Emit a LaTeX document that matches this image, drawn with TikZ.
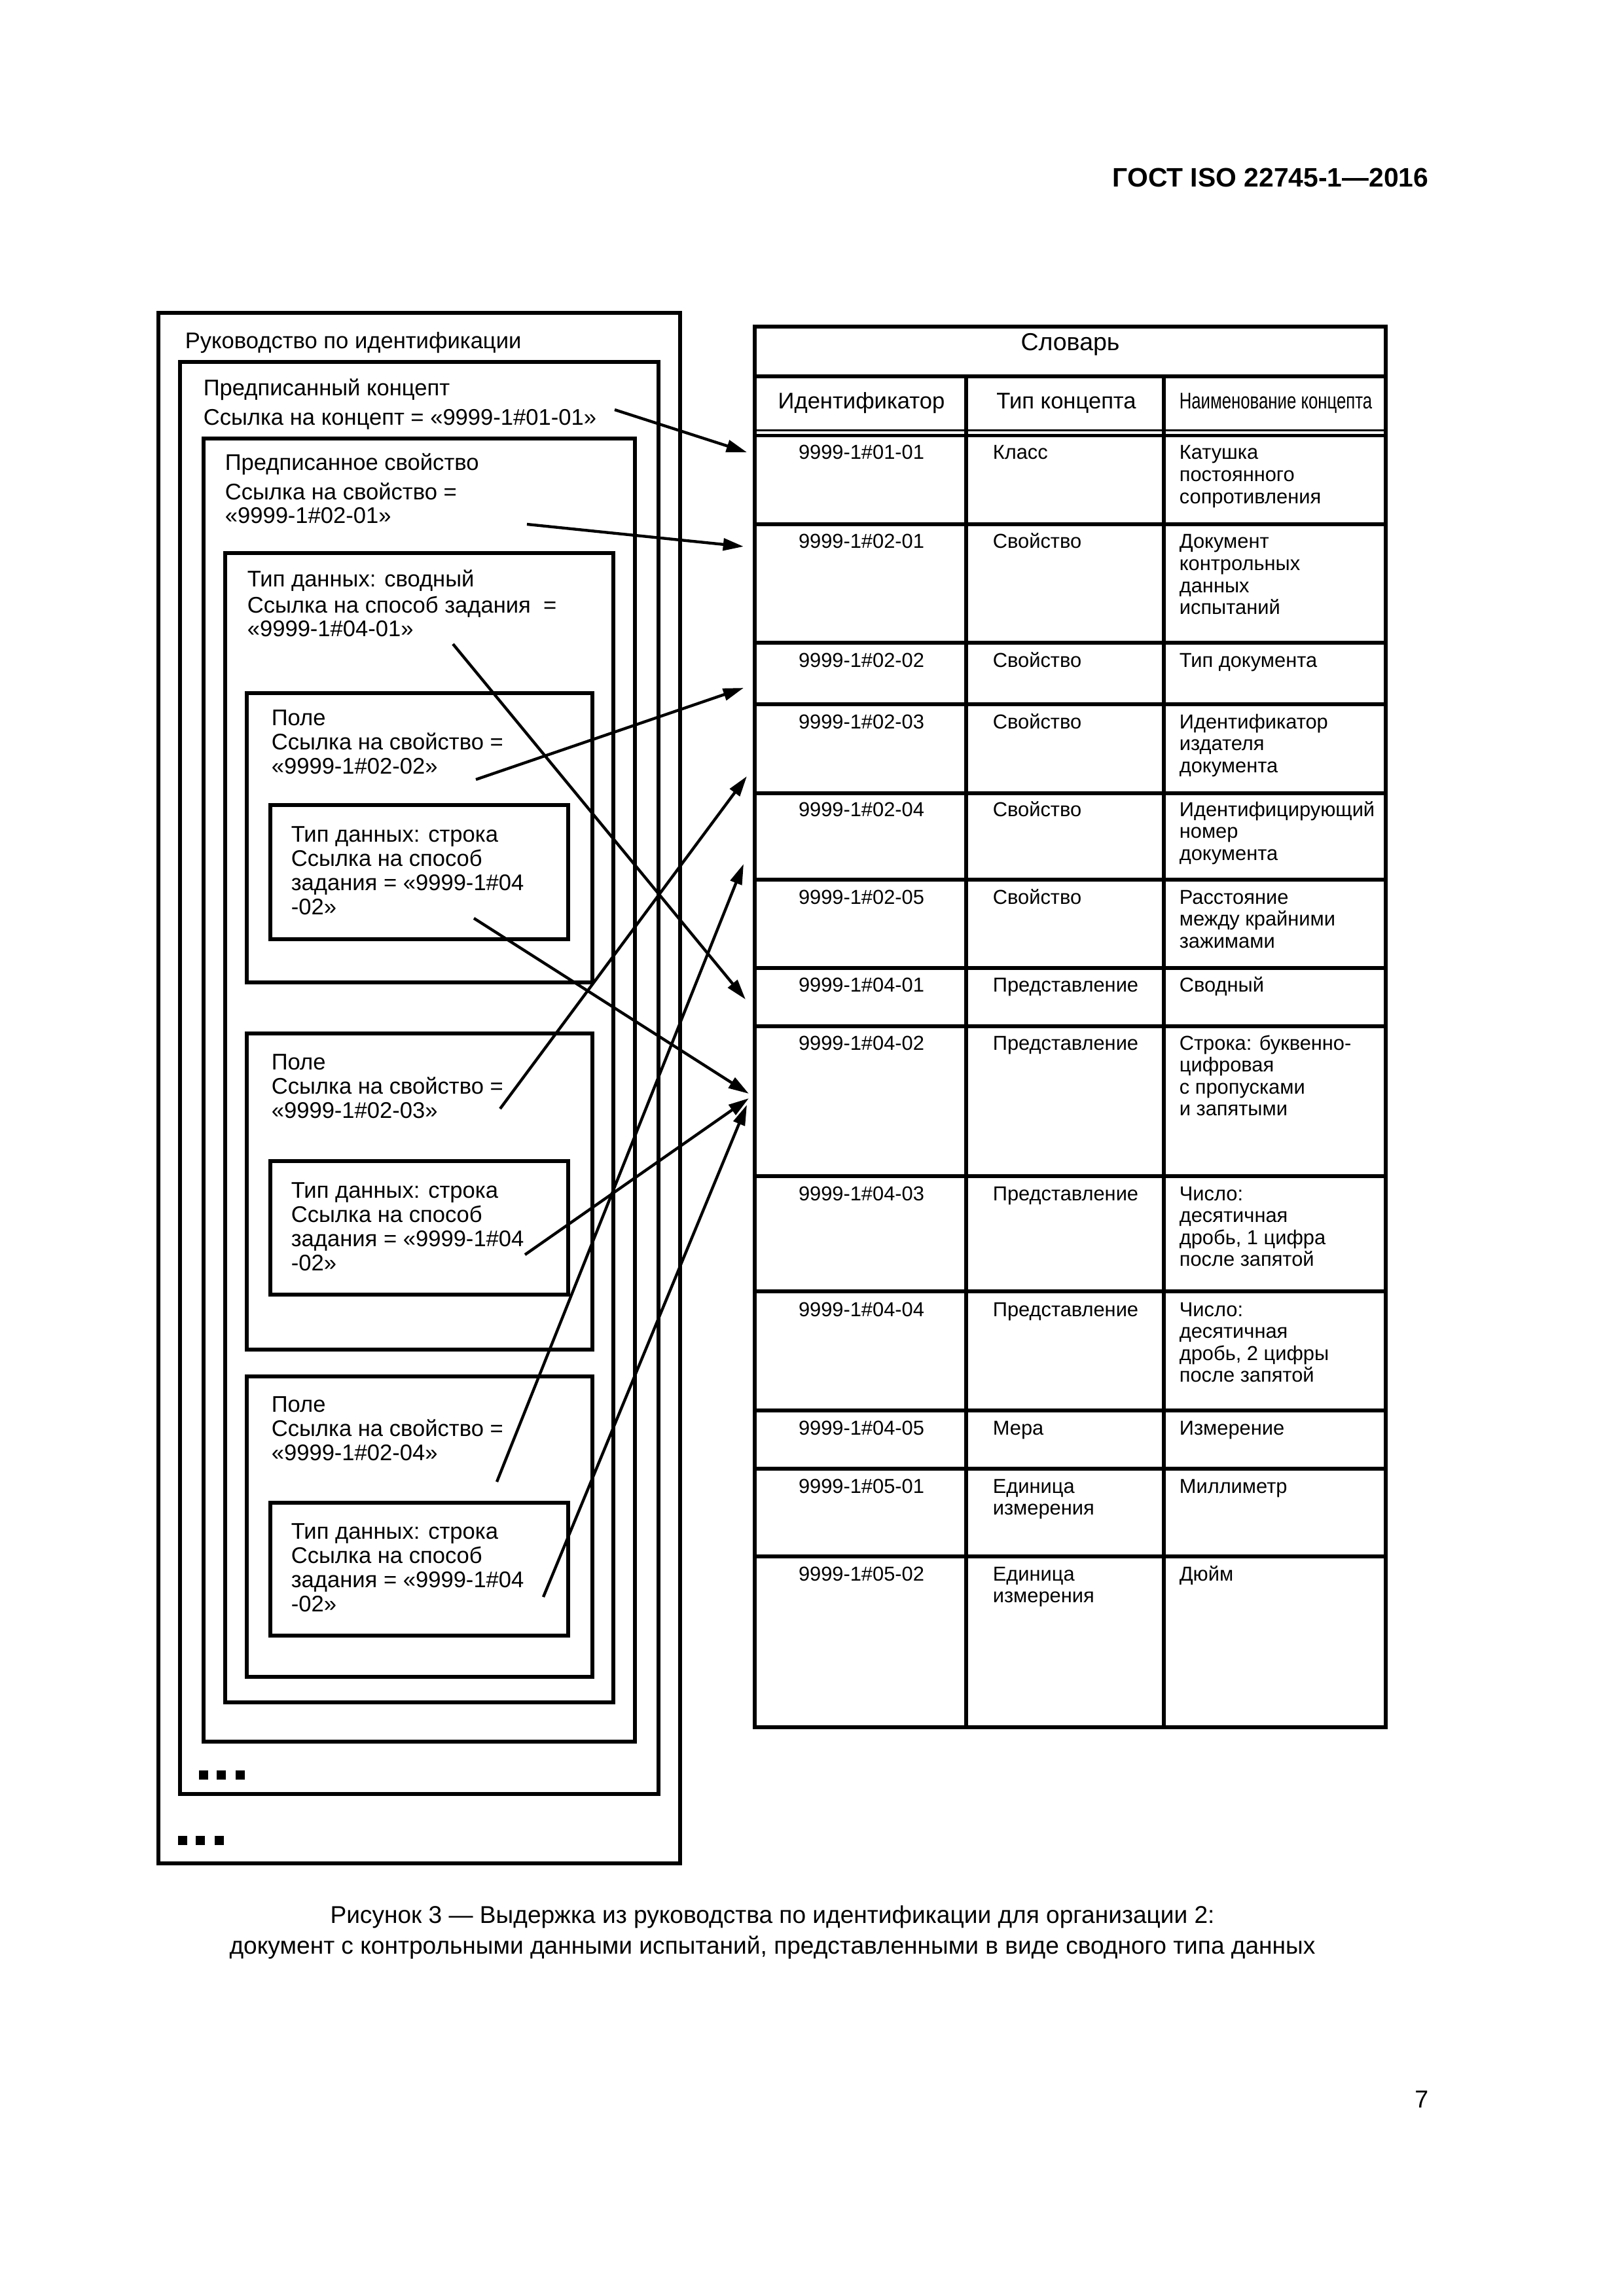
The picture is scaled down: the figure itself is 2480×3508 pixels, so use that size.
\documentclass[tikz,border=0pt]{standalone}
\usepackage{fontspec}
\setmainfont{Liberation Sans}
\usepackage{graphicx}
\usetikzlibrary{arrows.meta}
\newcommand\tabrow[5]{%
  \node[tid] (#1a) at (1316,#2) {#3};
  \node[tcell] (#1b) at (1516,#2) {\begin{tabular}[t]{@{}l@{}}#4\end{tabular}};
  \node[tcell] (#1c) at (1801,#2) {\begin{tabular}[t]{@{}l@{}}#5\end{tabular}};
}
\begin{document}
\begin{tikzpicture}[x=0.24pt,y=-0.24pt,
  gbox/.style={draw,line width=1.25pt},
  tline/.style={line width=1.25pt},
  btxt/.style={font=\fontsize{8.3}{8.9}\selectfont,inner sep=0pt,anchor=base west},
  tcell/.style={font=\fontsize{7.4}{8.05}\selectfont,inner sep=0pt,anchor=base west},
  tid/.style={font=\fontsize{7.4}{8.05}\selectfont,inner sep=0pt,anchor=base},
  thead/.style={font=\fontsize{8.3}{9}\selectfont,inner sep=0pt,anchor=base},
  arr/.style={-{Triangle[length=7.5pt,width=4.4pt]},line width=1.05pt},
  dot/.style={fill=black}]
\fill[white] (0,0) rectangle (2480,3508);
\useasboundingbox (0,0) rectangle (2480,3508);

% page header and number
\node[font=\bfseries\fontsize{9.8}{11}\selectfont,inner sep=0pt,anchor=base east] (hdr) at (2183,286) {ГОСТ ISO 22745-1—2016};
\node[font=\fontsize{9}{11}\selectfont,inner sep=0pt,anchor=base east] (pg) at (2183,3220) {7};

% nested boxes
\draw[gbox] (242,478) rectangle (1039,2847);
\draw[gbox] (275,553) rectangle (1006,2741);
\draw[gbox] (311,670) rectangle (970,2661);
\draw[gbox] (344,845) rectangle (937,2601);
\draw[gbox] (377,1059) rectangle (905,1501);
\draw[gbox] (413,1230) rectangle (868,1435);
\draw[gbox] (377,1579) rectangle (905,2062);
\draw[gbox] (413,1774) rectangle (868,1978);
\draw[gbox] (377,2103) rectangle (905,2562);
\draw[gbox] (413,2296) rectangle (868,2499);

\node[btxt] (t1) at (282,533) {Руководство по идентификации};
\node[btxt] (t2) at (310,605) {\begin{tabular}[t]{@{}l@{}}Предписанный концепт\\[1.9pt]Ссылка на концепт = «9999-1\#01-01»\end{tabular}};
\node[btxt] (t3) at (343,719) {\begin{tabular}[t]{@{}l@{}}Предписанное свойство\\[1.9pt]Ссылка на свойство =\\[-0.3pt]«9999-1\#02-01»\end{tabular}};
\node[btxt] (t4) at (377,897) {\begin{tabular}[t]{@{}l@{}}Тип данных: сводный\\[0.7pt]Ссылка на способ задания\ \ =\\[-0.3pt]«9999-1\#04-01»\end{tabular}};
\node[btxt] (t5) at (414,1108) {\begin{tabular}[t]{@{}l@{}}Поле\\Ссылка на свойство =\\«9999-1\#02-02»\end{tabular}};
\node[btxt] (t6) at (444,1286) {\begin{tabular}[t]{@{}l@{}}Тип данных: строка\\Ссылка на способ\\задания = «9999-1\#04\\-02»\end{tabular}};
\node[btxt] (t7) at (414,1634) {\begin{tabular}[t]{@{}l@{}}Поле\\Ссылка на свойство =\\«9999-1\#02-03»\end{tabular}};
\node[btxt] (t8) at (444,1830) {\begin{tabular}[t]{@{}l@{}}Тип данных: строка\\Ссылка на способ\\задания = «9999-1\#04\\-02»\end{tabular}};
\node[btxt] (t9) at (414,2157) {\begin{tabular}[t]{@{}l@{}}Поле\\Ссылка на свойство =\\«9999-1\#02-04»\end{tabular}};
\node[btxt] (t10) at (444,2351) {\begin{tabular}[t]{@{}l@{}}Тип данных: строка\\Ссылка на способ\\задания = «9999-1\#04\\-02»\end{tabular}};

% ellipsis squares
\fill[dot] (304,2705) rectangle (318,2719);
\fill[dot] (331,2705) rectangle (345,2719);
\fill[dot] (360,2705) rectangle (374,2719);
\fill[dot] (272,2805) rectangle (286,2819);
\fill[dot] (299,2805) rectangle (313,2819);
\fill[dot] (328,2805) rectangle (342,2819);

% table
\draw[tline] (1153,499) rectangle (2117,2639);
\draw[tline] (1153,575) -- (2117,575);
\draw[line width=0.95pt] (1153,657.5) -- (2117,657.5);
\foreach \yy in {665.5,801,982,1076,1212,1344,1479,1568,1797,1973,2155,2244,2378}
  \draw[tline] (1153,\yy) -- (2117,\yy);
\draw[tline] (1476,575) -- (1476,2639);
\draw[tline] (1778,575) -- (1778,2639);

\node[font=\fontsize{9}{10}\selectfont,inner sep=0pt,anchor=base] (dict) at (1635,536) {Словарь};
\node[thead] (h1) at (1316,625) {Идентификатор};
\node[thead] (h2) at (1629,625) {Тип концепта};
\node[thead] (h3) at (1949,625) {\scalebox{0.745}[1]{Наименование концепта}};

\tabrow{r1}{702}{9999-1\#01-01}{Класс}{Катушка\\постоянного\\сопротивления}
\tabrow{r2}{838}{9999-1\#02-01}{Свойство}{Документ\\контрольных\\данных\\испытаний}
\tabrow{r3}{1019}{9999-1\#02-02}{Свойство}{Тип документа}
\tabrow{r4}{1113}{9999-1\#02-03}{Свойство}{Идентификатор\\издателя\\документа}
\tabrow{r5}{1247}{9999-1\#02-04}{Свойство}{Идентифицирующий\\номер\\документа}
\tabrow{r6}{1381}{9999-1\#02-05}{Свойство}{Расстояние\\между крайними\\зажимами}
\tabrow{r7}{1515}{9999-1\#04-01}{Представление}{Сводный}
\tabrow{r8}{1604}{9999-1\#04-02}{Представление}{Строка: буквенно-\\цифровая\\с пропусками\\и запятыми}
\tabrow{r9}{1834}{9999-1\#04-03}{Представление}{Число:\\десятичная\\дробь, 1 цифра\\после запятой}
\tabrow{r10}{2011}{9999-1\#04-04}{Представление}{Число:\\десятичная\\дробь, 2 цифры\\после запятой}
\tabrow{r11}{2192}{9999-1\#04-05}{Мера}{Измерение}
\tabrow{r12}{2281}{9999-1\#05-01}{Единица\\измерения}{Миллиметр}
\tabrow{r13}{2415}{9999-1\#05-02}{Единица\\измерения}{Дюйм}

% arrows
\coordinate (s1) at (939,626);  \coordinate (e1) at (1141,691);
\coordinate (s2) at (805,801);  \coordinate (e2) at (1136,835);
\coordinate (s3) at (727,1191); \coordinate (e3) at (1136,1051);
\coordinate (s4) at (692,984);  \coordinate (e4) at (1139,1527);
\coordinate (s5) at (764,1694); \coordinate (e5) at (1141,1186);
\coordinate (s6) at (724,1403); \coordinate (e6) at (1144,1671);
\coordinate (s7) at (802,1917); \coordinate (e7) at (1144,1678);
\coordinate (s8) at (759,2264); \coordinate (e8) at (1136,1320);
\coordinate (s9) at (830,2440); \coordinate (e9) at (1141,1688);
\foreach \i in {1,...,9} \draw[arr] (s\i) -- (e\i);

% caption
\node[font=\fontsize{8.9}{11.3}\selectfont,inner sep=0pt,anchor=base] (cap) at (1180,2938)
  {\begin{tabular}[t]{@{}c@{}}Рисунок 3 — Выдержка из руководства по идентификации для организации 2:\\документ с контрольными данными испытаний, представленными в виде сводного типа данных\end{tabular}};
\end{tikzpicture}
\end{document}
